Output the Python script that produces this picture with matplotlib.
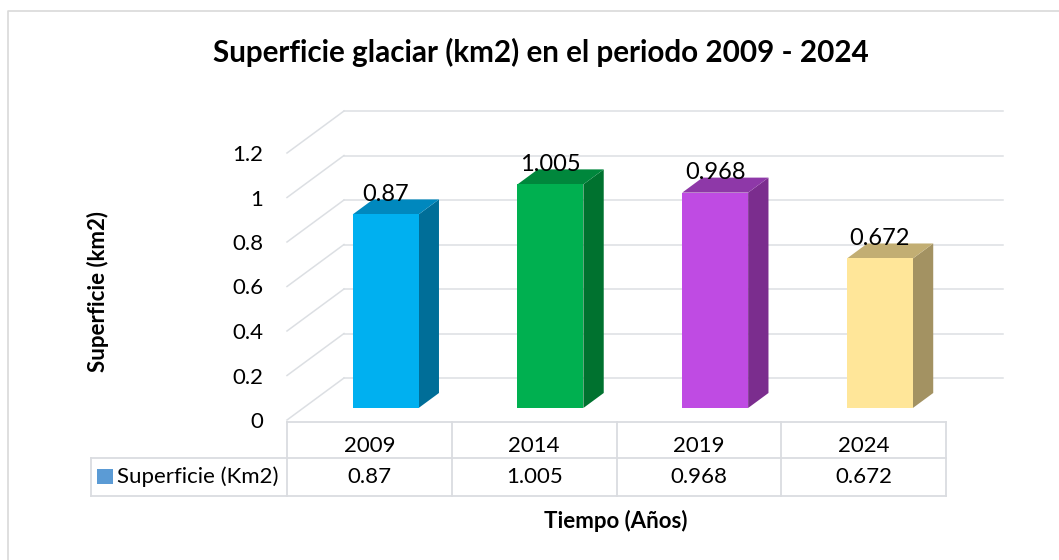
import matplotlib
matplotlib.use('Agg')
import matplotlib.pyplot as plt
from matplotlib.patches import Polygon, Rectangle
from matplotlib.lines import Line2D

# ---------------- data ----------------
years = ['2009', '2014', '2019', '2024']
values = [0.87, 1.005, 0.968, 0.672]
value_labels = ['0.87', '1.005', '0.968', '0.672']
yticks = [0, 0.2, 0.4, 0.6, 0.8, 1.0, 1.2]
ytick_labels = ['0', '0.2', '0.4', '0.6', '0.8', '1', '1.2']
series_name = 'Superficie (Km2)'
title = 'Superficie glaciar (km2) en el periodo 2009 - 2024'
ylabel = 'Superficie (km2)'
xlabel = 'Tiempo (Años)'

# ---------------- styles ----------------
front_colors = ['#00B0F0', '#00B050', '#BF4BE3', '#FFE699']
side_colors = ['#006E98', '#00722F', '#7B2D8E', '#A39262']
top_colors = ['#0088BE', '#00873C', '#8E38A8', '#C2AE73']
grid_color = '#DCDFE3'
FONT = 'Lato'
FS = 16
plt.rcParams['font.family'] = [FONT, 'DejaVu Sans']

W, H = 1059, 560
fig = plt.figure(figsize=(W / 100, H / 100), dpi=100)

# pixel geometry of the plot box
x0_px, unit_x = 287.0, 164.75     # front floor left edge, px per category
y0_px, unit_y = 420.0, 222.5      # front floor line, px per value unit
ax_right_px, ax_top_px = 1005.0, 105.0
ax = fig.add_axes([x0_px / W, 1 - y0_px / H,
                   (ax_right_px - x0_px) / W, (y0_px - ax_top_px) / H])
ax.set_xlim(0, (ax_right_px - x0_px) / unit_x)
ax.set_ylim(0, (y0_px - ax_top_px) / unit_y)
for s in ax.spines.values():
    s.set_visible(False)
ax.set_xticks([])
ax.set_facecolor('none')


def dx_(pix):
    return (pix - x0_px) / unit_x


def dy_(pix):
    return (y0_px - pix) / unit_y


DX = 57.0 / unit_x   # full depth offset (x)
DY = 42.0 / unit_y   # full depth offset (y)
n = len(years)

# gridlines: left wall diagonals and back wall horizontals
for v in yticks:
    ax.plot([0, DX], [v, v + DY], color=grid_color, lw=1.1, clip_on=False, zorder=1)
    ax.plot([DX, n + DX], [v + DY, v + DY], color=grid_color, lw=1.1, clip_on=False, zorder=1)

ax.set_yticks(yticks, ytick_labels)
ax.tick_params(axis='y', length=0, pad=17, labelsize=FS, labelcolor='#000000')

# bars
f0, f1 = 0.286, 0.643
bw = 0.4
ddx, ddy = (f1 - f0) * DX, (f1 - f0) * DY
for i, v in enumerate(values):
    cx = i + 0.5 + f0 * DX
    xl, xr = cx - bw / 2, cx + bw / 2
    yb = f0 * DY
    yt = yb + v
    ax.add_patch(Polygon([(xr, yb), (xr + ddx, yb + ddy), (xr + ddx, yt + ddy), (xr, yt)],
                         closed=True, facecolor=side_colors[i], edgecolor='none', zorder=3))
    ax.add_patch(Polygon([(xl, yt), (xr, yt), (xr + ddx, yt + ddy), (xl + ddx, yt + ddy)],
                         closed=True, facecolor=top_colors[i], edgecolor='none', zorder=3))
    ax.add_patch(Rectangle((xl, yb), bw, v, facecolor=front_colors[i],
                           edgecolor='none', zorder=4))
    ax.annotate(value_labels[i], (cx, yt + ddy), xytext=(0, -1), textcoords='offset points',
                ha='center', va='baseline', fontsize=17, zorder=5, annotation_clip=False)

# data table
tcol = '#DADCE0'
tlw = 1.3
r_top, r_mid, r_bot = dy_(422), dy_(458), dy_(496)
leg_left = dx_(91)
ax.plot([0, n], [r_top, r_top], color=tcol, lw=tlw, clip_on=False)
ax.plot([leg_left, n], [r_mid, r_mid], color=tcol, lw=tlw, clip_on=False)
ax.plot([leg_left, n], [r_bot, r_bot], color=tcol, lw=tlw, clip_on=False)
for k in range(n + 1):
    ax.plot([k, k], [r_top, r_bot], color=tcol, lw=tlw, clip_on=False)
ax.plot([leg_left, leg_left], [r_mid, r_bot], color=tcol, lw=tlw, clip_on=False)
for i in range(n):
    ax.text(i + 0.5, dy_(446), years[i], ha='center', va='center', fontsize=FS)
    ax.text(i + 0.5, dy_(477), value_labels[i], ha='center', va='center', fontsize=FS)
# legend key
ax.add_patch(Rectangle((dx_(97), dy_(484)), 16 / unit_x, 15 / unit_y, facecolor='#5B9BD5',
                       edgecolor='none', clip_on=False))
ax.text(dx_(117), dy_(477), series_name, ha='left', va='center', fontsize=FS)

# titles
fig.text(541 / W, 1 - 52 / H, title, ha='center', va='center', fontsize=21.3, fontweight='bold')
fig.text(98 / W, 1 - 292 / H, ylabel, ha='center', va='center', rotation=90,
         fontsize=FS, fontweight='bold')
fig.text(616 / W, 1 - 521 / H, xlabel, ha='center', va='center', fontsize=FS, fontweight='bold')

# chart border (left and top visible)
fig.add_artist(Line2D([8 / W, 8 / W, 1.0], [0.0, 1 - 11 / H, 1 - 11 / H],
                      color='#D9D9D9', lw=1.2))

fig.savefig('out.png', dpi=100)
